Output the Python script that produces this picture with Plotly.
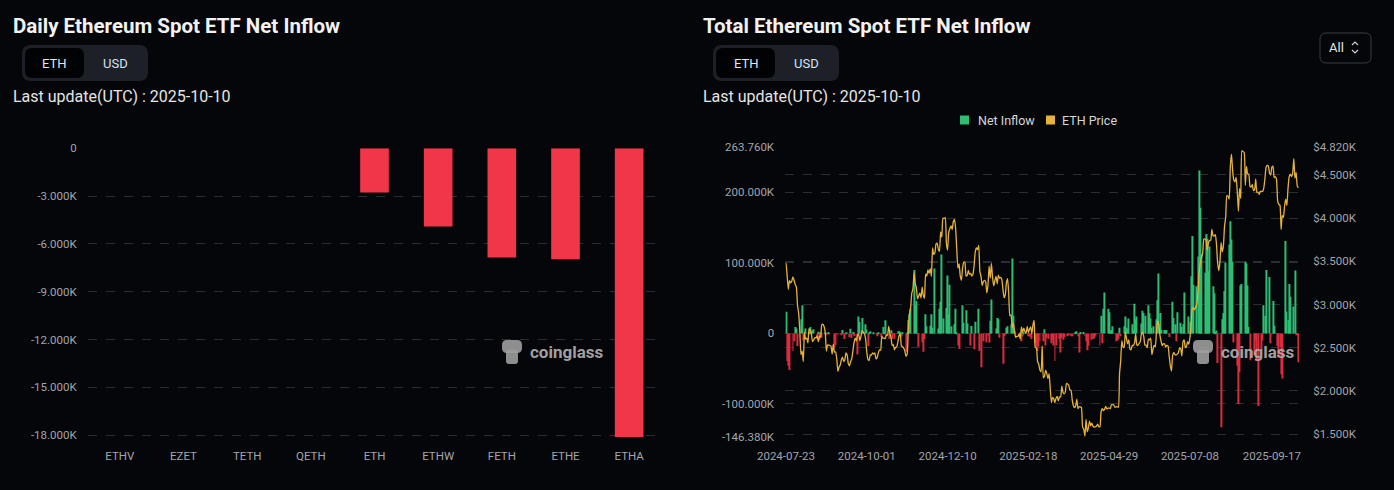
import pandas as pd
import plotly.graph_objects as go

W, H = 1394, 490
BG = "#05060a"
GRID = "#2a2d34"
TICK = "#a2a5ac"
GREEN = "#2ebd73"
RED_R = "#d92d3e"
RED_L = "#f2364a"
GOLD = "#e6b33a"
FONT = "Roboto"

# ---------------- Left chart data (ETH, thousands) ----------------
etf_tickers = ["ETHV", "EZET", "TETH", "QETH", "ETH", "ETHW", "FETH", "ETHE", "ETHA"]
etf_flow_k = [0, 0, 0, 0, -2.78, -4.91, -6.86, -6.97, -18.14]
left_tickvals = [0, -3, -6, -9, -12, -15, -18]
left_ticktext = ["0", "-3.000K", "-6.000K", "-9.000K", "-12.000K", "-15.000K", "-18.000K"]

# ---------------- Right chart data ----------------
START, END = "2024-07-23", "2025-10-10"
HOLIDAYS = ["2024-09-02", "2024-11-28", "2024-12-25", "2025-01-01", "2025-01-09",
            "2025-01-20", "2025-02-17", "2025-04-18", "2025-05-26", "2025-06-19",
            "2025-07-04", "2025-09-01"]

# ETH price (USD), one value per calendar day
p_2024_07 = [3480, 3340, 3175, 3275, 3250, 3270, 3320, 3280, 3230]
p_2024_08 = [3200, 2990, 2900, 2690, 2420, 2460, 2340, 2680, 2600, 2610,
             2555, 2720, 2700, 2660, 2570, 2590, 2615, 2615, 2635, 2570,
             2630, 2625, 2765, 2770, 2745, 2680, 2460, 2530, 2530, 2525, 2515]
p_2024_09 = [2425, 2540, 2450, 2450, 2370, 2225, 2275, 2300, 2360, 2390,
             2340, 2360, 2440, 2415, 2315, 2290, 2340, 2370, 2465, 2560,
             2610, 2580, 2645, 2655, 2580, 2630, 2700, 2680, 2660, 2600]
p_2024_10 = [2450, 2365, 2350, 2415, 2415, 2440, 2425, 2440, 2370, 2385,
             2440, 2475, 2470, 2630, 2610, 2610, 2605, 2645, 2645, 2745,
             2665, 2620, 2525, 2535, 2475, 2505, 2510, 2570, 2640, 2660, 2520]
p_2024_11 = [2510, 2495, 2460, 2400, 2425, 2720, 2890, 2960, 3130, 3180,
             3370, 3245, 3190, 3065, 3100, 3130, 3075, 3200, 3105, 3070,
             3350, 3330, 3400, 3360, 3415, 3325, 3655, 3580, 3595, 3700]
p_2024_12 = [3710, 3640, 3615, 3840, 3780, 4000, 3995, 4005, 3710, 3630,
             3835, 3880, 3910, 3870, 3960, 3985, 3880, 3630, 3420, 3470,
             3330, 3280, 3420, 3490, 3490, 3330, 3335, 3395, 3350, 3360, 3330]
p_2025_01 = [3350, 3450, 3610, 3655, 3635, 3685, 3380, 3325, 3220, 3265,
             3280, 3265, 3135, 3220, 3445, 3305, 3475, 3310, 3215, 3275,
             3325, 3240, 3340, 3305, 3315, 3290, 3175, 3080, 3110, 3250, 3300]
p_2025_02 = [3125, 2870, 2880, 2730, 2785, 2690, 2620, 2630, 2630, 2660,
             2600, 2740, 2675, 2725, 2690, 2665, 2745, 2675, 2715, 2740,
             2660, 2765, 2815, 2500, 2495, 2340, 2310, 2240]
p_2025_03 = [2220, 2520, 2150, 2170, 2240, 2200, 2140, 2200, 2020, 1865,
             1925, 1910, 1865, 1915, 1935, 1885, 1930, 1930, 2055, 1985,
             1965, 1985, 2085, 2080, 2065, 2010, 2005, 1895, 1830, 1805, 1825]
p_2025_04 = [1905, 1795, 1815, 1815, 1805, 1580, 1555, 1475, 1670, 1525,
             1570, 1650, 1595, 1625, 1590, 1580, 1585, 1590, 1615, 1585,
             1585, 1755, 1795, 1770, 1785, 1820, 1790, 1800, 1800, 1795]
p_2025_05 = [1840, 1840, 1835, 1810, 1815, 1815, 1810, 2200, 2345, 2580,
             2510, 2500, 2680, 2610, 2545, 2590, 2485, 2475, 2525, 2525,
             2555, 2660, 2530, 2530, 2550, 2570, 2660, 2680, 2630, 2530, 2530]
p_2025_06 = [2500, 2600, 2590, 2610, 2420, 2480, 2525, 2510, 2690, 2810,
             2770, 2645, 2575, 2525, 2545, 2545, 2510, 2525, 2520, 2405,
             2295, 2230, 2410, 2445, 2420, 2415, 2425, 2440, 2500, 2485]
p_2025_07 = [2405, 2570, 2590, 2500, 2515, 2570, 2540, 2615, 2770, 2950,
             2960, 2940, 2970, 3010, 3140, 3370, 3475, 3545, 3590, 3755,
             3760, 3745, 3630, 3710, 3740, 3745, 3870, 3795, 3795, 3810, 3700]
p_2025_08 = [3480, 3390, 3495, 3715, 3610, 3680, 3910, 4010, 4260, 4255,
             4220, 4600, 4740, 4550, 4440, 4420, 4475, 4310, 4080, 4340,
             4230, 4780, 4770, 4760, 4380, 4600, 4510, 4510, 4370, 4360, 4390]
p_2025_09 = [4320, 4330, 4450, 4300, 4300, 4275, 4310, 4310, 4310, 4350,
             4460, 4590, 4610, 4600, 4520, 4500, 4590, 4600, 4470, 4480,
             4450, 4200, 4160, 4150, 3870, 4030, 4010, 4140, 4220, 4145]
p_2025_10 = [4350, 4480, 4510, 4480, 4520, 4690, 4460, 4530, 4370, 4350]

# Net inflow (thousand ETH), one value per US trading day
f_2024_07 = [30.7, -39, -46, -52, -25, -11, 9]
f_2024_08 = [7, -18, 20, 40, -10, -1, 7, 2, 9, -0.2, 4, 6, -8, 2.5, -9, 1, -6,
             1, -1.4, 0, 2, -0.7]
f_2024_09 = [-20, -16, -0.1, -2.5, -2.5, 5, -0.5, -8, 0.5, -5.5, 6.5, -6.5, 2, -4,
             -30, 24, 16, -0.1, 22, 13]
f_2024_10 = [5.5, -18, 0.3, 3, 0.7, 0, -0.1, -4, 0.3, -5, 9, 0.2, 18.5, -3.5, -8,
             4.5, -7.5, -1, -7.5, 3, 3, 1.7, -4.3]
f_2024_11 = [0.5, -26, 0.2, 19, 27, 35, 90, 40, 46, -1, -19, -12.5, -26, -8, 27,
             10, 11, 27, 8, 92]
f_2024_12 = [7, 35, 45, 112, 21, 36, 82, 27, 69, 10, 13, 35, 0.7, -17, -22, 40,
             15, 33, 14, -17, 10.5]
f_2025_01 = [-22.5, 16.5, 35, -25, -48, -11, -12.5, -3, -13, 18, 48, 7, 22, 20,
             -6, -43, -3.5, -1, 8, 10]
f_2025_02 = [13, 106, 25, 4, -1, -4, 1, -11, -4, 0.5, -4, -3, -5, -8, -14, -19,
             -25, -18, -11]
f_2025_03 = [-11, 6, -17, -6, -8, -14, -8, -17, -39, -17, -8, -27, -6, -9, -5,
             -4, -2, -3, -4, -4, 2]
f_2025_04 = [3, -4, -27, 2, 2, -4, -11, -24, -17, -9, -8, -6, -3, -17, 25, -14,
             35, 58, 35, 30, 3]
f_2025_05 = [5, 10, -11, -10, -8, 8, -4, 10, 24, 8, 6, 21, 13, 5, 42, 20, 24, 14,
             32, 29, 25]
f_2025_06 = [40, 29, 21, 8, 10, 20, 47, 85, 29, 5, 5, 4, 5, -5, 45, 22, 13, -11,
             30, 15]
f_2025_07 = [9, 13, 58, 24, 16, 81, 138, 69, 67, 109, 231, 178, 112, 86, 141,
             134, 88, 123, 67, 57, 2, 4]
f_2025_08 = [-42, -133, 20, 29, 60, 100, 126, 159, 133, 102, -13, -46, -100, -55,
             68, 70, 102, 99, 68, 9, -38]
f_2025_09 = [-31, -9, -39, -103, -22, -10, 40, 25, 90, 80, -14, -1, 46, 11, -18,
             -34, -19, -58, -64, 131, 31]
f_2025_10 = [19, 70, 52, 38, 89, -2, -2, -41]

months = ["2024-07", "2024-08", "2024-09", "2024-10", "2024-11", "2024-12",
          "2025-01", "2025-02", "2025-03", "2025-04", "2025-05", "2025-06",
          "2025-07", "2025-08", "2025-09", "2025-10"]
price_lists = [p_2024_07, p_2024_08, p_2024_09, p_2024_10, p_2024_11, p_2024_12,
               p_2025_01, p_2025_02, p_2025_03, p_2025_04, p_2025_05, p_2025_06,
               p_2025_07, p_2025_08, p_2025_09, p_2025_10]
flow_lists = [f_2024_07, f_2024_08, f_2024_09, f_2024_10, f_2024_11, f_2024_12,
              f_2025_01, f_2025_02, f_2025_03, f_2025_04, f_2025_05, f_2025_06,
              f_2025_07, f_2025_08, f_2025_09, f_2025_10]

right_left_tickvals = [-146.38, -100, 0, 100, 200, 263.76]
right_left_ticktext = ["-146.380K", "-100.000K", "0", "100.000K", "200.000K", "263.760K"]
price_tickvals = [1500, 2000, 2500, 3000, 3500, 4000, 4500, 4820]
price_ticktext = ["$1.500K", "$2.000K", "$2.500K", "$3.000K", "$3.500K",
                  "$4.000K", "$4.500K", "$4.820K"]
date_ticks = ["2024-07-23", "2024-10-01", "2024-12-10", "2025-02-18",
              "2025-04-29", "2025-07-08", "2025-09-17"]

s0, s1 = pd.Timestamp(START), pd.Timestamp(END)
price_dates, price_vals, flow_dates, flow_vals = [], [], [], []
for m, pl, fl in zip(months, price_lists, flow_lists):
    ms = pd.Timestamp(m + "-01")
    me = ms + pd.offsets.MonthEnd(0)
    a, b = max(ms, s0), min(me, s1)
    cd = pd.date_range(a, b, freq="D")
    assert len(cd) == len(pl), f"price {m}: {len(cd)} vs {len(pl)}"
    td = pd.bdate_range(a, b, freq="C", holidays=HOLIDAYS)
    assert len(td) == len(fl), f"flow {m}: {len(td)} vs {len(fl)}"
    price_dates += list(cd)
    price_vals += pl
    flow_dates += list(td)
    flow_vals += fl

flow_colors = [GREEN if v >= 0 else RED_R for v in flow_vals]

# ---------------- Figure ----------------
def px(x):
    return x / W


def py(y):
    return 1 - y / H


fig = go.Figure()

fig.add_trace(go.Bar(x=etf_tickers, y=etf_flow_k, marker=dict(color=RED_L, line=dict(width=0)),
                     width=0.45, xaxis="x", yaxis="y", showlegend=False))

fig.add_trace(go.Bar(x=flow_dates, y=flow_vals, marker=dict(color=flow_colors, line=dict(width=0)),
                     width=86400000 * 0.85, xaxis="x2", yaxis="y2", showlegend=False))

fig.add_trace(go.Scatter(x=price_dates, y=price_vals, mode="lines",
                         line=dict(color=GOLD, width=1.3, shape="spline", smoothing=0.5),
                         xaxis="x2", yaxis="y3", showlegend=False))

tickfont = dict(family=FONT, size=11.5, color=TICK)
common = dict(automargin=False, zeroline=False, showline=False, tickfont=tickfont,
              ticks="outside", tickcolor=BG)

fig.update_layout(
    template="none",
    width=W, height=H, autosize=False,
    paper_bgcolor=BG, plot_bgcolor=BG,
    margin=dict(l=0, r=0, t=0, b=0, pad=0),
    showlegend=False,
    xaxis=dict(domain=[px(88), px(661)], type="category", showgrid=False,
               ticklen=8, anchor="y", **common),
    yaxis=dict(domain=[py(437.3), py(148.3)], range=[-18.14, 0], tickvals=left_tickvals,
               ticktext=left_ticktext, showgrid=True, gridcolor=GRID, griddash="dash",
               gridwidth=1, ticklen=8, anchor="x", **common),
    xaxis2=dict(domain=[px(785.4), px(1299)], type="date",
                range=["2024-07-22 12:00", "2025-10-10 12:00"],
                tickvals=date_ticks, ticktext=date_ticks, showgrid=False,
                ticklen=8, anchor="y2", **common),
    yaxis2=dict(domain=[py(436.7), py(147.3)], range=[-146.38, 263.76],
                tickvals=right_left_tickvals, ticktext=right_left_ticktext,
                showgrid=True, gridcolor=GRID, griddash="dash", gridwidth=1,
                ticklen=8, anchor="x2", **common),
    yaxis3=dict(overlaying="y2", side="right", range=[1469, 4820], tickvals=price_tickvals,
                ticktext=price_ticktext, showgrid=True, gridcolor=GRID, griddash="dash",
                gridwidth=1, ticklen=11, anchor="x2", **common),
)


def rrect(x0, y0, x1, y1, r):
    def P(x, y):
        return f"{px(x):.5f},{py(y):.5f}"
    return (f"M {P(x0 + r, y0)} L {P(x1 - r, y0)} Q {P(x1, y0)} {P(x1, y0 + r)} "
            f"L {P(x1, y1 - r)} Q {P(x1, y1)} {P(x1 - r, y1)} L {P(x0 + r, y1)} "
            f"Q {P(x0, y1)} {P(x0, y1 - r)} L {P(x0, y0 + r)} Q {P(x0, y0)} {P(x0 + r, y0)} Z")


shapes = []
annotations = []


def text(x, y, s, size, color, xanchor="left", bold=False, opacity=1.0):
    annotations.append(dict(x=px(x), y=py(y), xref="paper", yref="paper", text=s,
                            showarrow=False, xanchor=xanchor, yanchor="middle",
                            opacity=opacity, borderpad=0,
                            font=dict(family=FONT, size=size, color=color,
                                      weight="bold" if bold else "normal")))


def toggle(x0):
    shapes.append(dict(type="path", xref="paper", yref="paper",
                       path=rrect(x0, 45, x0 + 126, 81, 9), fillcolor="#1d2026",
                       line=dict(width=0), layer="below"))
    shapes.append(dict(type="path", xref="paper", yref="paper",
                       path=rrect(x0 + 3, 48, x0 + 62, 78, 7), fillcolor="#010204",
                       line=dict(width=0), layer="below"))
    text(x0 + 33, 63.5, "ETH", 13, "#dfe6f2", xanchor="center")
    text(x0 + 94, 63.5, "USD", 13, "#d3e2f7", xanchor="center")


def watermark(x0):
    shapes.append(dict(type="path", xref="paper", yref="paper",
                       path=rrect(x0, 340, x0 + 20, 353, 5), fillcolor="#9d9d9d",
                       line=dict(width=0), opacity=0.9))
    shapes.append(dict(type="path", xref="paper", yref="paper",
                       path=rrect(x0 + 4, 350, x0 + 16, 364, 3), fillcolor="#9d9d9d",
                       line=dict(width=0), opacity=0.9))
    text(x0 + 27, 352, "coinglass", 17, "#a9a9a9", bold=True, opacity=0.95)


# titles
text(12, 26, "Daily Ethereum Spot ETF Net Inflow", 20.5, "#f2f2f2", bold=True)
text(702, 26, "Total Ethereum Spot ETF Net Inflow", 20.5, "#f2f2f2", bold=True)
toggle(22)
toggle(713)
text(12, 96, "Last update(UTC) : 2025-10-10", 16, "#e4e4e4")
text(702, 96, "Last update(UTC) : 2025-10-10", 16, "#e4e4e4")

# "All" selector
shapes.append(dict(type="path", xref="paper", yref="paper", path=rrect(1320, 33, 1371, 63, 6),
                   fillcolor=BG, line=dict(color="#3a3d45", width=1)))
text(1336, 47.5, "All", 13, "#e6e6e6", xanchor="center")
chev_up = f"M {px(1352):.5f},{py(45):.5f} L {px(1355):.5f},{py(42):.5f} L {px(1358):.5f},{py(45):.5f}"
chev_dn = f"M {px(1352):.5f},{py(50):.5f} L {px(1355):.5f},{py(53):.5f} L {px(1358):.5f},{py(50):.5f}"
for pth in (chev_up, chev_dn):
    shapes.append(dict(type="path", xref="paper", yref="paper", path=pth,
                       line=dict(color="#cfcfcf", width=1.2)))

# legend
shapes.append(dict(type="rect", xref="paper", yref="paper", x0=px(960), x1=px(969),
                   y0=py(124.5), y1=py(115.5), fillcolor=GREEN, line=dict(width=0)))
text(977, 120, "Net Inflow", 12.5, "#d6d6d6")
shapes.append(dict(type="rect", xref="paper", yref="paper", x0=px(1046), x1=px(1055),
                   y0=py(124.5), y1=py(115.5), fillcolor=GOLD, line=dict(width=0)))
text(1061, 120, "ETH Price", 12.5, "#d6d6d6")

watermark(502)
watermark(1193)

fig.update_layout(shapes=shapes, annotations=annotations)
fig.write_html("out.html",
               config={"displayModeBar": False},
               post_script="document.body.style.margin='0';"
                           "document.body.style.background='#05060a';")
